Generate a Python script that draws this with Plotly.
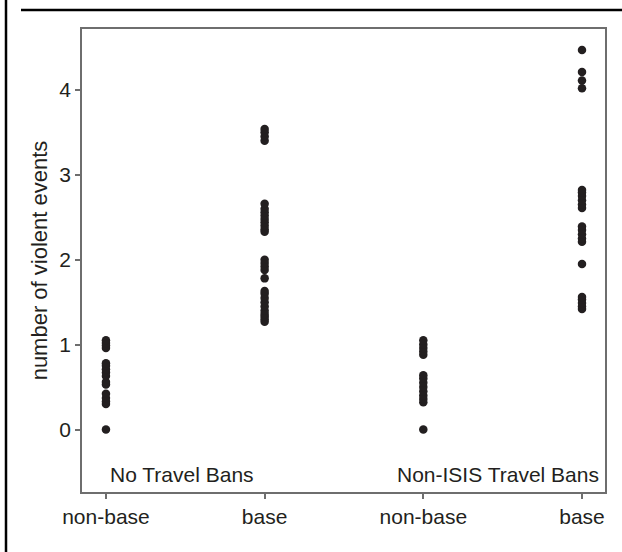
import plotly.graph_objects as go

categories = ["non-base", "base", "non-base", "base"]
positions = [1, 2, 3, 4]

no_ban_nonbase = [0, 0.30, 0.33, 0.37, 0.42, 0.53, 0.56, 0.63, 0.67, 0.71, 0.75, 0.78,
                  0.96, 0.99, 1.02, 1.05]
no_ban_base = [1.27, 1.30, 1.33, 1.36, 1.40, 1.45, 1.50, 1.55, 1.60, 1.63, 1.78, 1.88,
               1.92, 1.96, 2.00, 2.33, 2.36, 2.40, 2.44, 2.48, 2.52, 2.56, 2.60, 2.66,
               3.40, 3.45, 3.50, 3.54]
nonisis_nonbase = [0, 0.32, 0.36, 0.40, 0.45, 0.50, 0.55, 0.60, 0.64, 0.88, 0.92, 0.96,
                   1.00, 1.05]
nonisis_base = [1.42, 1.45, 1.49, 1.53, 1.56, 1.95, 2.21, 2.25, 2.30, 2.35, 2.39, 2.61,
                2.65, 2.70, 2.75, 2.79, 2.82, 4.02, 4.11, 4.21, 4.47]

groups = [no_ban_nonbase, no_ban_base, nonisis_nonbase, nonisis_base]
panel_labels = ["No Travel Bans", "Non-ISIS Travel Bans"]
y_ticks = [0, 1, 2, 3, 4]

FONT = "Liberation Sans, Arial, sans-serif"
FS = 21
AX = "#6e6e6e"

fig = go.Figure()
for pos, vals in zip(positions, groups):
    fig.add_trace(go.Scatter(
        x=[pos] * len(vals), y=vals, mode="markers",
        marker=dict(size=8.5, color="#231f20"), showlegend=False))

W, H = 622, 552
L, R, T, B = 82, 17, 29, 60
pw, ph = W - L - R, H - T - B

def px(xp):
    return (xp - L) / pw

def py(yp):
    return (H - B - yp) / ph

fig.update_layout(
    width=W, height=H,
    margin=dict(l=L, r=R, t=T, b=B),
    paper_bgcolor="white", plot_bgcolor="white",
    font=dict(family=FONT, size=FS, color="#231f20"),
    xaxis=dict(range=[0.849, 4.145], tickvals=positions, ticktext=categories,
               showgrid=False, zeroline=False, showline=True, mirror=True,
               linecolor=AX, linewidth=1.5, ticks="outside", ticklen=5,
               tickcolor=AX, tickwidth=1.5, tickfont=dict(size=FS, color="#231f20")),
    yaxis=dict(range=[-0.736, 4.717], tickvals=y_ticks,
               showgrid=False, zeroline=False, showline=True, mirror=True,
               linecolor=AX, linewidth=1.5, ticks="outside", ticklen=5,
               tickcolor=AX, tickwidth=1.5, tickfont=dict(size=FS, color="#231f20"),
               title=dict(text="number of violent events", standoff=6,
                          font=dict(size=22, color="#231f20"))),
    shapes=[
        dict(type="line", xref="paper", yref="paper",
             x0=px(6), x1=px(6), y0=py(H), y1=py(0),
             line=dict(color="black", width=2.5)),
        dict(type="line", xref="paper", yref="paper",
             x0=px(21), x1=px(W), y0=py(10), y1=py(10),
             line=dict(color="black", width=2.5)),
    ],
    annotations=[
        dict(text=panel_labels[0], xref="paper", yref="paper", x=px(108), y=py(474),
             xanchor="left", yanchor="middle", showarrow=False,
             font=dict(size=FS, color="#231f20")),
        dict(text=panel_labels[1], xref="paper", yref="paper", x=px(601), y=py(474),
             xanchor="right", yanchor="middle", showarrow=False,
             font=dict(size=FS, color="#231f20")),
    ],
)

fig.write_html("out.html")
